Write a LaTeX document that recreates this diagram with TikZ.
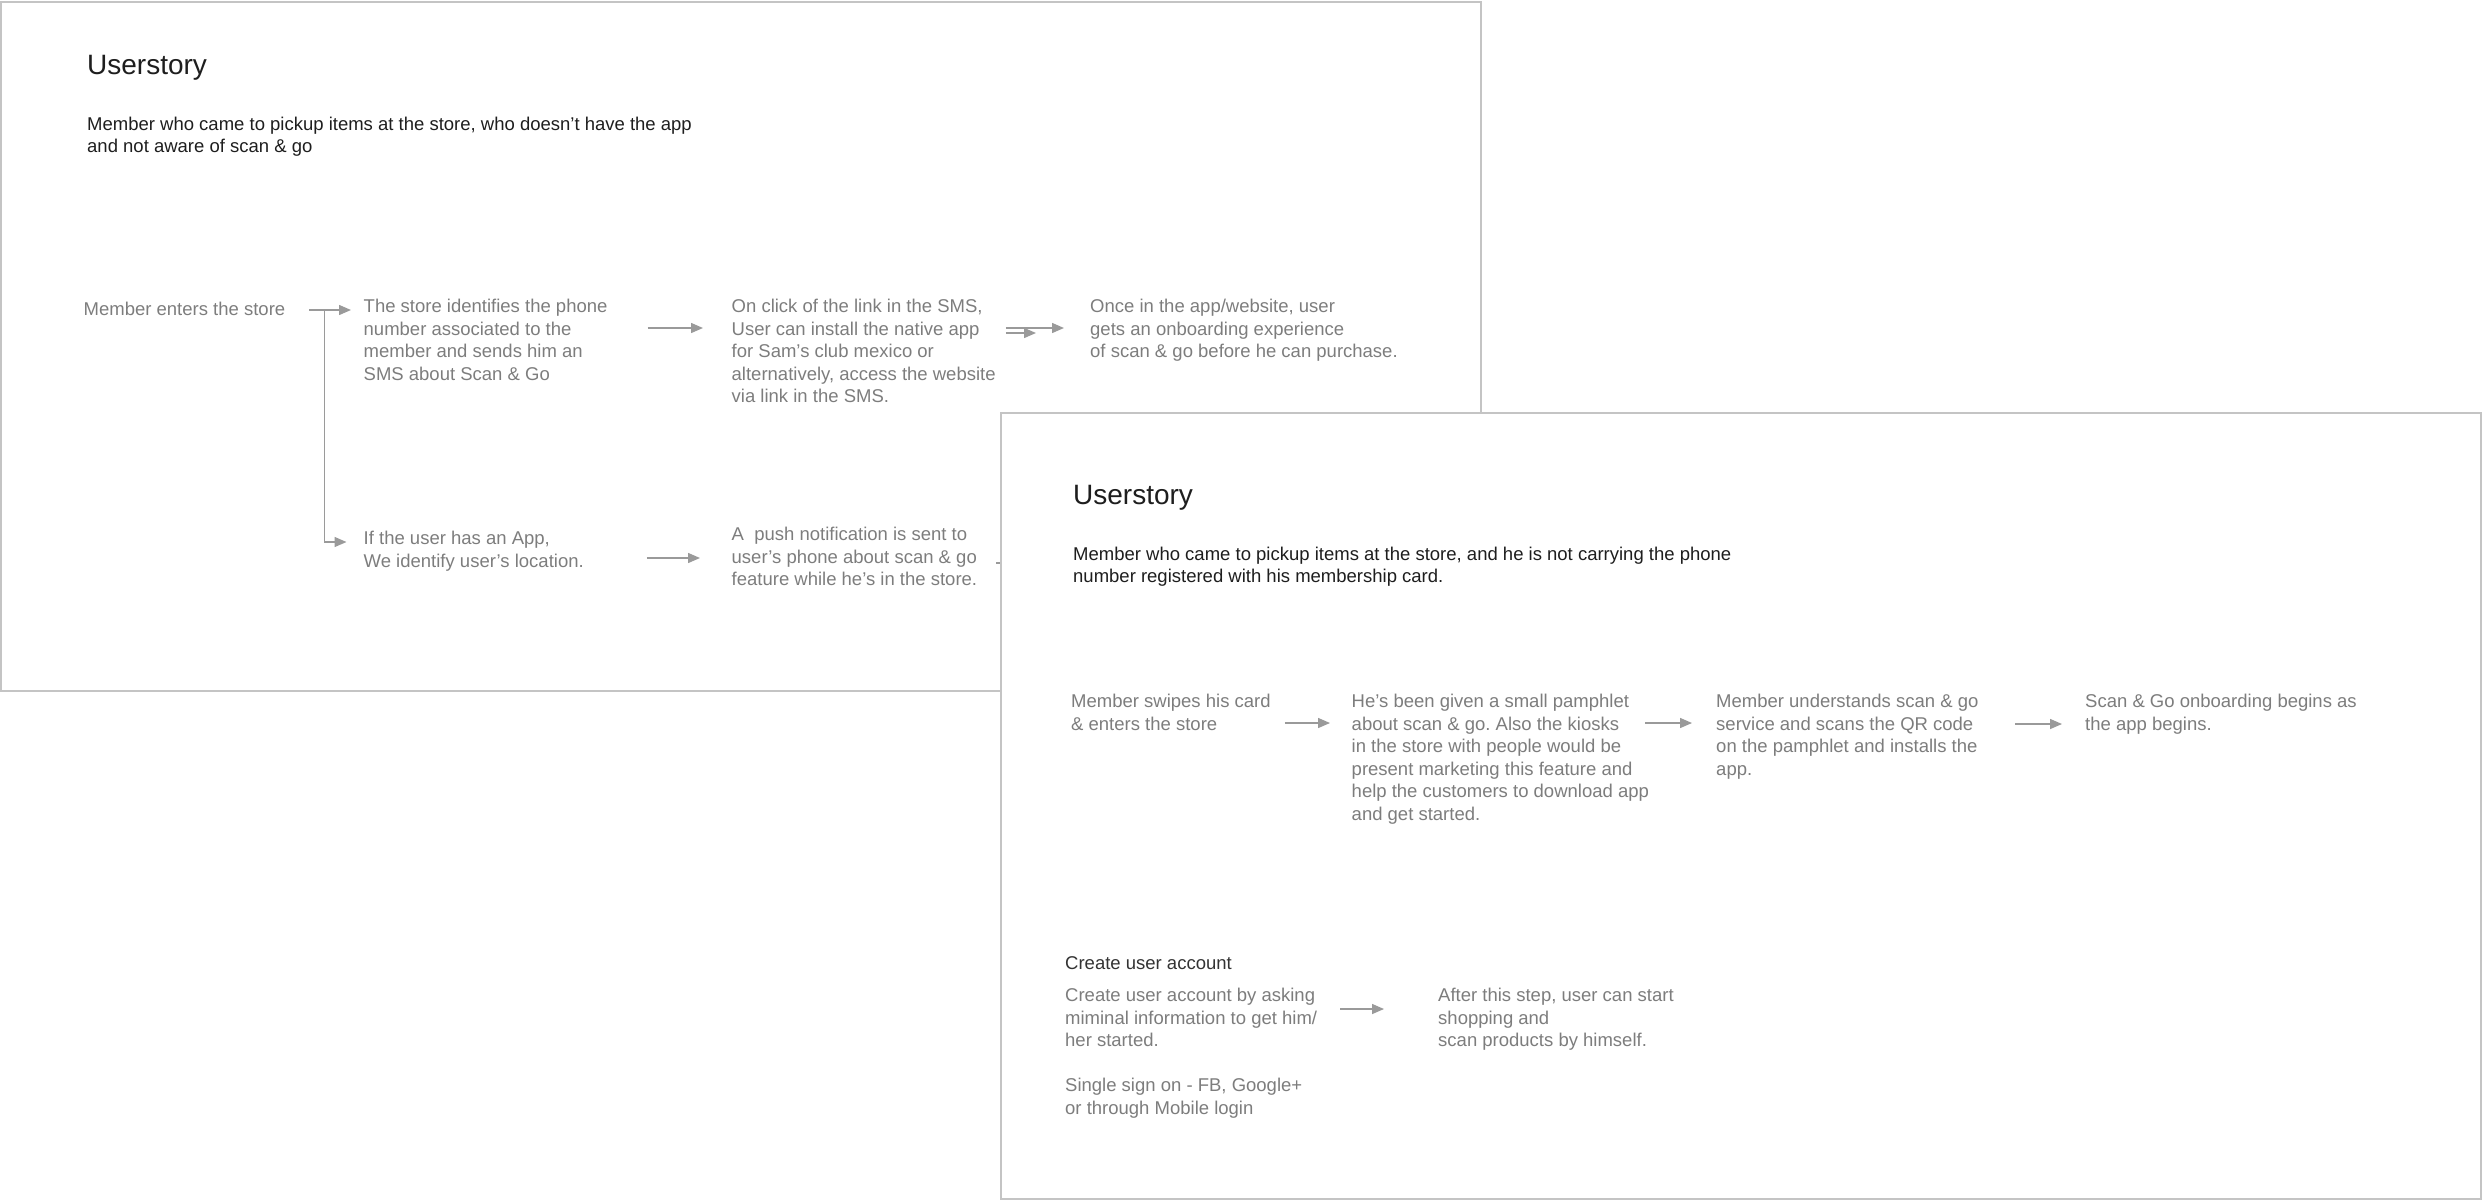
\documentclass[tikz,border=0pt]{standalone}
\usepackage{fontspec}
\setmainfont{Liberation Sans}
\usetikzlibrary{arrows.meta}
\frenchspacing

\definecolor{framegray}{HTML}{C4C4C4}
\definecolor{textgray}{HTML}{7D7D7D}
\definecolor{arrowgray}{HTML}{9A9A9A}
\definecolor{headgray}{HTML}{1E1E1E}
\definecolor{subgray}{HTML}{333333}

\begin{document}
\begin{tikzpicture}[x=1pt, y=-1pt,
  frame/.style={draw=framegray, line width=1.5pt},
  title/.style={anchor=base west, inner sep=0pt, font=\fontsize{28}{34}\selectfont, text=headgray},
  lead/.style={anchor=north west, yshift=15.4pt, inner sep=0pt, align=left, font=\fontsize{18.5}{22}\selectfont, text=headgray, execute at begin node=\strut},
  txt/.style={anchor=north west, yshift=15.75pt, inner sep=0pt, align=left, font=\fontsize{18.5}{22.5}\selectfont, text=textgray, execute at begin node=\strut},
  arr/.style={draw=arrowgray, line width=1.4pt, -{Triangle[length=12pt,width=10pt]}}]
\useasboundingbox (0,0) rectangle (2484,1200);

% First story
\draw[frame] (1,2) rectangle (1481,691);
\node (t1) [title] at (87,74) {Userstory};
\node (sub1) [lead] at (87,132) {Member who came to pickup items at the store, who doesn’t have the app\\and not aware of scan \& go};

% First row
\node (m1) [txt] at (83.5,315) {Member enters the store};
\node (s1) [txt] at (363.5,315) {The store identifies the phone\\number associated to the\\member and sends him an\\SMS about Scan \& Go};
\node (c1) [txt] at (731.5,315) {On click of the link in the SMS,\\User can install the native app\\for Sam’s club mexico or\\alternatively, access the website\\via link in the SMS.};
\node (o1) [txt] at (1090,315) {Once in the app/website, user\\gets an onboarding experience\\of scan \& go before he can purchase.};

% Second row
\node (i1) [txt] at (363.5,547) {If the user has an App,\\We identify user’s location.};
\node (p1) [txt] at (731.5,543) {A\ \ push notification is sent to\\user’s phone about scan \& go\\feature while he’s in the store.};

% Arrows of the first story
\coordinate (br) at ([shift={(39,10.75)}]m1.north east);
\coordinate (hid) at (1060,563);
\draw[arr] ([shift={(24,10.75)}]m1.north east) -- ([shift={(-12.5,10.75)}]s1.north west);
\draw[arr] (br) |- ([shift={(-17,10.75)}]i1.north west);
\draw[arr] ([shift={(40,28.75)}]s1.north east) -- ([shift={(-28.5,28.75)}]c1.north west);
\draw[arr] ([shift={(10,33.75)}]c1.north east) -- ([shift={(-54,33.75)}]o1.north west);
\draw[arr] ([shift={(10,28.75)}]c1.north east) -- ([shift={(-26,28.75)}]o1.north west);
\draw[arr] ([shift={(63,26.75)}]i1.north east) -- ([shift={(-31.5,30.75)}]p1.north west);
\draw[arr] ([shift={(19,35.75)}]p1.north east) -- (hid);

% Second story
\draw[frame, fill=white] (1001,413) rectangle (2481,1199);
\node (t2) [title] at (1073,504) {Userstory};
\node (sub2) [lead] at (1073,562) {Member who came to pickup items at the store, and he is not carrying the phone\\number registered with his membership card.};

\node (r1) [txt] at (1071,710) {Member swipes his card\\\& enters the store};
\node (h1) [txt] at (1351.5,710) {He’s been given a small pamphlet\\about scan \& go. Also the kiosks\\in the store with people would be\\present marketing this feature and\\help the customers to download app\\and get started.};
\node (u1) [txt] at (1716,710) {Member understands scan \& go\\service and scans the QR code\\on the pamphlet and installs the\\app.};
\node (g1) [txt] at (2085,710) {Scan \& Go onboarding begins as\\the app begins.};

\node (ch) [txt, text=subgray] at (1065,969) {Create user account};
\node (ca1) [txt] at (1065,1004) {Create user account by asking\\miminal information to get him/\\her started.\\[22.5pt]Single sign on - FB, Google+\\or through Mobile login};
\node (af1) [txt] at (1438,1004) {After this step, user can start\\shopping and\\scan products by himself.};

% Arrows of the second story
\draw[arr] ([shift={(14,28.75)}]r1.north east) -- ([shift={(-21.5,28.75)}]h1.north west);
\draw[arr] ([shift={(-4,28.75)}]h1.north east) -- ([shift={(-24,28.75)}]u1.north west);
\draw[arr] ([shift={(36.5,29.75)}]u1.north east) -- ([shift={(-23,29.75)}]g1.north west);
\draw[arr] ([shift={(23,20.75)}]ca1.north east) -- ([shift={(-54,20.75)}]af1.north west);
\end{tikzpicture}
\end{document}
